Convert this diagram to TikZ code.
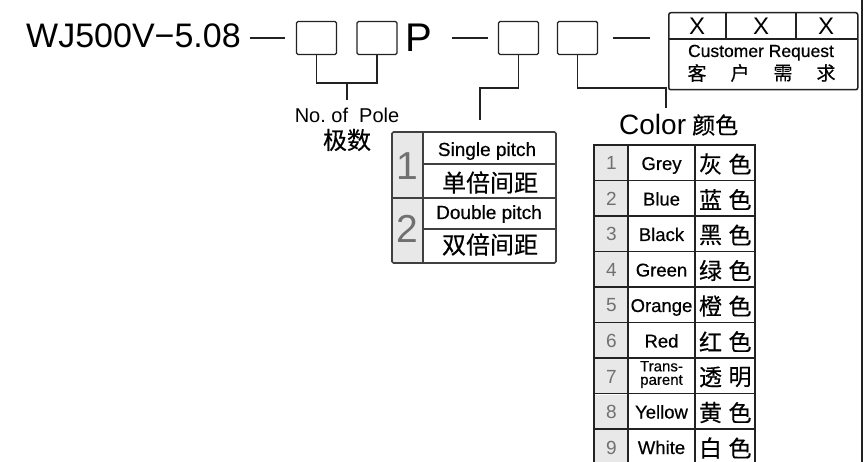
\documentclass[tikz,border=0pt]{standalone}
\usepackage{fontspec}
\setmainfont{Liberation Sans}
\newfontfamily\semib[FakeBold=0.5]{Liberation Sans}
\newfontfamily\cjk[FakeBold=0.4]{Noto Sans CJK SC}
\definecolor{ink}{HTML}{222222}
\definecolor{numgray}{HTML}{707070}
\definecolor{cellgray}{HTML}{E8E8E8}
\begin{document}
\begin{tikzpicture}[x=1pt,y=-1pt,
  ln/.style={draw=ink, line width=1.3pt},
  tl/.style={draw=ink, line width=1.7pt},
  sbox/.style={draw=ink, line width=1.4pt, rounded corners=1.5pt, minimum width=40pt, minimum height=33pt, inner sep=0pt},
  txt/.style={inner sep=0pt, text=black},
  fsz/.style={font=\fontsize{#1}{#1}\selectfont},
  bsz/.style={font=\semib\fontsize{#1}{#1}\selectfont},
  zh/.style={inner sep=0pt, text=black, font=\cjk\fontsize{#1}{#1}\selectfont},
  num/.style={inner sep=0pt, text=numgray, font=\fontsize{#1}{#1}\selectfont},
]
\useasboundingbox (0,0) rectangle (865,462);

% ---- header line ----
\node[txt, fsz=34, anchor=base west] (title) at (26,48) {WJ500V−5.08};
\draw[ln] (250,38) -- (285,38);
\node[sbox] (b1) at (316.5,38) {};
\node[sbox] (b2) at (377,38) {};
\node[txt, fsz=40, anchor=base west] (P) at (405,52) {P};
\draw[ln] (452,38) -- (488,38);
\node[sbox] (b3) at (518.5,38) {};
\node[sbox] (b4) at (577.5,38) {};
\draw[ln] (613,38) -- (650,38);

% ---- customer request box ----
\node[draw=ink, line width=1.5pt, rounded corners=2pt, minimum width=189pt, minimum height=77pt, inner sep=0pt, anchor=north west] (cust) at (668,12) {};
\draw[ln] (668,39) -- (857,39);
\draw[ln] (726,12) -- (726,39);
\draw[ln] (796,12) -- (796,39);
\node[txt, fsz=24, anchor=base] (x1) at (697,35) {X};
\node[txt, fsz=24, anchor=base] (x2) at (761,35) {X};
\node[txt, fsz=24, anchor=base] (x3) at (826,35) {X};
\node[txt, bsz=17.5, anchor=base] (cr) at (761,57) {Customer Request};
\node[zh=19] (c1) at (697,73) {客};
\node[zh=19] (c2) at (740,73) {户};
\node[zh=19] (c3) at (783,73) {需};
\node[zh=19] (c4) at (826,73) {求};

% ---- pole bracket ----
\coordinate (pj) at (347,83);
\coordinate (pe) at (347,100);
\draw[ln] (b1.south) |- (pj) -| (b2.south);
\draw[ln] (pj) -- (pe);
\node[txt, fsz=20, anchor=base] (pole) at (347,123) {No.\ of\ \ Pole};
\node[zh=24] (polezh) at (347,140) {极数};

% ---- pitch connector and table ----
\coordinate (pk) at (480,88);
\coordinate (pt) at (480,120);
\draw[ln] (b3.south) |- (pk) -- (pt);

\fill[cellgray] (393,133) rectangle (423,262);
\draw[tl, draw=black!75, rounded corners=1.5pt] (392,132) rectangle (556,263);
\draw[tl, draw=black!75] (423,132) -- (423,263);
\draw[tl, draw=black!75] (392,198) -- (556,198);
\draw[tl, draw=black!75] (423,164) -- (556,164);
\draw[tl, draw=black!75] (423,229) -- (556,229);
\node[num=39, anchor=base] (p1) at (407.5,180) {1};
\node[num=39, anchor=base] (p2) at (407.5,243) {2};
\node[txt, bsz=19, anchor=base] (sp) at (487,156) {Single pitch};
\node[zh=24] (spzh) at (490,182.5) {单倍间距};
\node[txt, bsz=19, anchor=base] (dp) at (489,219) {Double pitch};
\node[zh=24] (dpzh) at (490,244.5) {双倍间距};

% ---- color connector and table ----
\coordinate (ck) at (666,88);
\coordinate (ct) at (666,108);
\draw[ln] (b4.south) |- (ck) -- (ct);
\node[txt, fsz=28, anchor=base west] (color) at (619,135) {Color};
\node[zh=23, anchor=west] (colorzh) at (692,125) {颜色};

\foreach \i in {0,...,8} {
  \fill[cellgray] (595,146+35.5*\i) rectangle (627,180+35.5*\i);
}
\draw[tl] (594,465) -- (594,145) -- (755,145) -- (755,465);
\draw[tl] (628,145) -- (628,465);
\draw[tl] (695,145) -- (695,465);
\foreach \i in {1,...,8} {
  \draw[tl] (594,145+35.5*\i) -- (755,145+35.5*\i);
}

\foreach \n/\en/\za/\zb [count=\k from 0] in
  {1/Grey/灰/色, 2/Blue/蓝/色, 3/Black/黑/色, 4/Green/绿/色, 5/Orange/橙/色,
   6/Red/红/色, 7//透/明, 8/Yellow/黄/色, 9/White/白/色} {
  \node[num=19, anchor=base] (n\n) at (611.5,170+35.5*\k) {\n};
  \node[txt, bsz=18.5, anchor=base] (e\n) at (661.5,170+35.5*\k) {\en};
  \node[zh=23] (za\n) at (710.5,164+35.5*\k) {\za};
  \node[zh=23] (zb\n) at (740,164+35.5*\k) {\zb};
}
\node[txt, align=center, font=\semib\fontsize{15}{13.5}\selectfont] (tr) at (661.5,374.5) {Trans-\\parent};

% ---- right edge rule ----
\draw[draw=ink, line width=1.4pt] (862,0) -- (862,462);
\end{tikzpicture}
\end{document}
